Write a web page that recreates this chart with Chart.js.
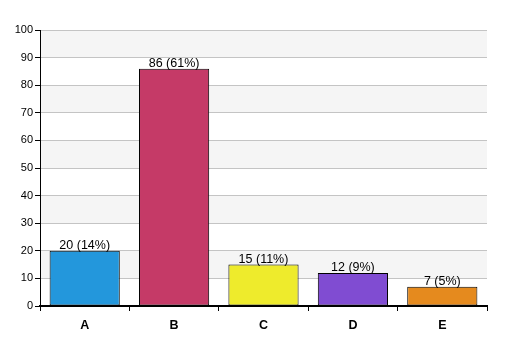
<!DOCTYPE html>
<html>
<head>
<meta charset="utf-8">
<script src="https://cdn.jsdelivr.net/npm/chart.js@4/dist/chart.umd.min.js"></script>
<style>
html,body{margin:0;padding:0;background:#fff;}
canvas{display:block;}
</style>
</head>
<body>
<canvas id="c" width="507" height="356"></canvas>
<script>
const categories = ["A", "B", "C", "D", "E"];
const counts = [20, 86, 15, 12, 7];
const percents = ["14%", "61%", "11%", "9%", "5%"];
const barColors = ["#2397dc", "#c53a67", "#eeeb2c", "#804cd2", "#e58a1e"];
const yTicks = [0, 10, 20, 30, 40, 50, 60, 70, 80, 90, 100];

const bandUnderGrid = {
  id: "bandUnderGrid",
  beforeDraw(chart) {
    const {ctx, chartArea, scales} = chart;
    const y = scales.y;
    if (!chartArea) return;
    ctx.save();
    ctx.fillStyle = "#f5f5f5";
    for (let i = 0; i < yTicks.length - 1; i++) {
      if (i % 2 === 1) {
        const top = y.getPixelForValue(yTicks[i + 1]);
        const bot = y.getPixelForValue(yTicks[i]);
        ctx.fillRect(chartArea.left, top, chartArea.right - chartArea.left, bot - top);
      }
    }
    ctx.restore();
  }
};

const labelPlugin = {
  id: "valueLabels",
  afterDatasetsDraw(chart) {
    const {ctx} = chart;
    const meta = chart.getDatasetMeta(0);
    ctx.save();
    ctx.font = "12.5px 'Liberation Sans', Arial, sans-serif";
    ctx.fillStyle = "#000";
    ctx.textAlign = "center";
    ctx.textBaseline = "bottom";
    meta.data.forEach((bar, i) => {
      ctx.fillText(counts[i] + " (" + percents[i] + ")", bar.x, bar.y + 1);
    });
    ctx.restore();
  }
};

new Chart(document.getElementById("c"), {
  type: "bar",
  data: {
    labels: categories,
    datasets: [{
      data: counts,
      backgroundColor: barColors,
      borderColor: "#000",
      borderWidth: 1,
      borderSkipped: false,
      categoryPercentage: 1,
      barPercentage: 0.785
    }]
  },
  options: {
    responsive: false,
    devicePixelRatio: 1,
    animation: false,
    layout: { padding: { top: 30, right: 20, left: 0, bottom: 0 } },
    plugins: { legend: { display: false }, tooltip: { enabled: false } },
    scales: {
      x: {
        afterFit(s) { s.height = 50; },
        grid: { display: true, drawOnChartArea: false, drawTicks: true, tickLength: 5, tickColor: "#000", offset: true },
        border: { color: "#000", width: 2 },
        ticks: { color: "#000", font: { family: "'Liberation Sans', Arial, sans-serif", size: 12.5, weight: "bold" }, padding: 7 }
      },
      y: {
        min: 0, max: 100,
        afterFit(s) { s.width = 40; },
        afterBuildTicks(s) { s.ticks = yTicks.map(v => ({ value: v })); },
        grid: { color: "#c4c4c4", tickColor: "#000", tickLength: 5, drawTicks: true },
        border: { color: "#000", width: 1 },
        ticks: { color: "#000", font: { family: "'Liberation Sans', Arial, sans-serif", size: 11 }, padding: 2 }
      }
    }
  },
  plugins: [bandUnderGrid, labelPlugin]
});
</script>
</body>
</html>
